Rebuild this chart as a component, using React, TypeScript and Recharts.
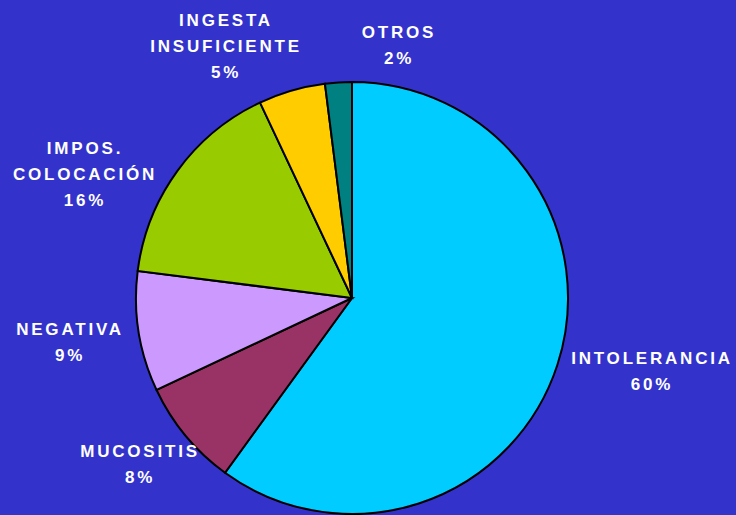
import React from "react";
import { PieChart, Pie, Cell } from "recharts";

// Motivos, en el orden en que se dibujan (desde arriba, sentido horario)
const categories = ["INTOLERANCIA", "MUCOSITIS", "NEGATIVA", "IMPOS.|COLOCACIÓN", "INGESTA|INSUFICIENTE", "OTROS"];
const percents = [60, 8, 9, 16, 5, 2];
const colors = ["#00CCFF", "#993366", "#CC99FF", "#99CC00", "#FFCC00", "#008080"];

// label offsets from the pie center (centre of the text block)
const labelOffsets: Record<string, [number, number]> = {
  "INTOLERANCIA": [300, 73],
  "MUCOSITIS": [-212, 166],
  "NEGATIVA": [-282, 44],
  "IMPOS.|COLOCACIÓN": [-267, -124],
  "INGESTA|INSUFICIENTE": [-126, -252],
  "OTROS": [47, -253],
};

const data = categories.map((name, i) => ({ name, value: percents[i] }));

const LINE_H = 26;

function renderLabel(props: any) {
  const { cx, cy, name, value } = props;
  const [dx, dy] = labelOffsets[name] || [0, 0];
  const lines = [...name.split("|"), `${value}%`];
  const top = cy + dy - ((lines.length - 1) * LINE_H) / 2;
  return (
    <text
      x={cx + dx}
      y={top}
      textAnchor="middle"
      fill="#ffffff"
      style={{ fontFamily: "'Liberation Sans', Arial, sans-serif", fontWeight: 700, fontSize: 17, letterSpacing: 2.8 }}
    >
      {lines.map((l: string, i: number) => (
        <tspan key={i} x={cx + dx} y={top + i * LINE_H} dominantBaseline="central">
          {l}
        </tspan>
      ))}
    </text>
  );
}

export default function App() {
  return (
    <div style={{ position: "fixed", left: 0, top: 0, width: 736, height: 515, background: "#3333CC", overflow: "hidden" }}>
      <PieChart width={736} height={515} margin={{ top: 0, right: 0, bottom: 0, left: 0 }}>
        <Pie
          data={data}
          dataKey="value"
          nameKey="name"
          cx={352}
          cy={298}
          outerRadius={216}
          startAngle={90}
          endAngle={-270}
          stroke="#000000"
          strokeWidth={2}
          label={renderLabel}
          labelLine={false}
          isAnimationActive={false}
        >
          {data.map((d, i) => (
            <Cell key={d.name} fill={colors[i]} />
          ))}
        </Pie>
      </PieChart>
    </div>
  );
}
